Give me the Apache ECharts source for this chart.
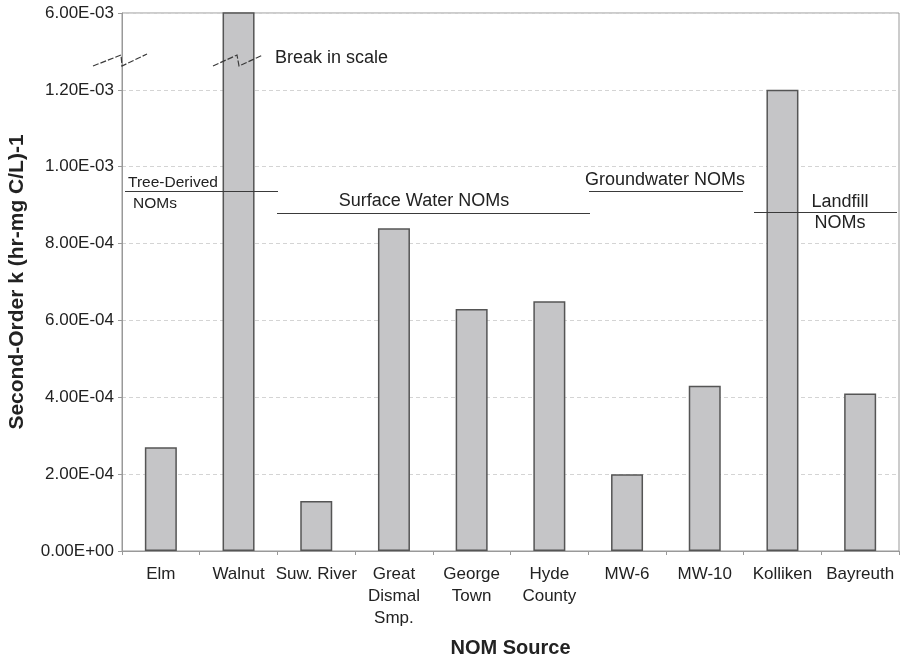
<!DOCTYPE html>
<html>
<head>
<meta charset="utf-8">
<script src="https://cdn.jsdelivr.net/npm/echarts@6/dist/echarts.min.js"></script>
<style>
html,body{margin:0;padding:0;background:#fff;}
#chart{width:905px;height:657px;}
</style>
</head>
<body>
<div id="chart"></div>
<script>
// ---- data ----
const categories = ['Elm', 'Walnut', 'Suw. River', 'Great\nDismal\nSmp.', 'George\nTown', 'Hyde\nCounty', 'MW-6', 'MW-10', 'Kolliken', 'Bayreuth'];
const rateValues = [2.7e-4, 6.0e-3, 1.3e-4, 8.4e-4, 6.3e-4, 6.5e-4, 2.0e-4, 4.3e-4, 1.2e-3, 4.1e-4];
const axisMin = 0;
const axisMax = 1.4e-3;        // top of the broken scale
const axisStep = 2e-4;
const topTickLabel = '6.00E-03'; // label shown at the break
const groupLabels = ['Tree-Derived', 'NOMs', 'Surface Water NOMs', 'Groundwater NOMs', 'Landfill', 'NOMs', 'Break in scale'];

const FONT = '"Liberation Sans", Arial, Helvetica, sans-serif';

function fmtSci(v) {
  if (Math.abs(v - axisMax) < 1e-9) return topTickLabel;
  if (v === 0) return '0.00E+00';
  let s = v.toExponential(2).toUpperCase();
  return s.replace(/E([+-])(\d)$/, 'E$10$2');
}

const chart = echarts.init(document.getElementById('chart'), null, {renderer: 'canvas'});

const line = (pts, dash) => ({
  type: 'polyline',
  shape: {points: pts},
  style: {stroke: '#3a3a3a', lineWidth: 1.2, fill: null, lineDash: dash || null},
  z: 100
});
const txt = (x, y, t, size, align) => ({
  type: 'text',
  x: x, y: y,
  style: {text: t, font: size + 'px ' + FONT, fill: '#222', align: align || 'center', verticalAlign: 'middle'},
  z: 100
});

chart.setOption({
  animation: false,
  backgroundColor: '#fff',
  grid: {left: 122, right: 6, top: 13, bottom: 106, show: true, borderColor: '#999', borderWidth: 1,
         containLabel: false, outerBoundsMode: 'none'},
  xAxis: {
    type: 'category',
    data: categories,
    name: 'NOM Source',
    nameLocation: 'middle',
    nameGap: 87,
    nameTextStyle: {fontFamily: FONT, fontSize: 20, fontWeight: 'bold', color: '#222'},
    axisLine: {lineStyle: {color: '#999', width: 1}},
    axisTick: {show: true, length: 4, lineStyle: {color: '#999'}},
    axisLabel: {fontFamily: FONT, fontSize: 17, color: '#222', margin: 12, lineHeight: 22, interval: 0}
  },
  yAxis: {
    type: 'value',
    min: axisMin,
    max: axisMax,
    interval: axisStep,
    name: 'Second-Order k (hr-mg C/L)-1',
    nameLocation: 'middle',
    nameGap: 94,
    nameTextStyle: {fontFamily: FONT, fontSize: 21, fontWeight: 'bold', color: '#222'},
    axisLine: {show: true, lineStyle: {color: '#999', width: 1}},
    axisTick: {show: true, length: 4, lineStyle: {color: '#999'}},
    axisLabel: {fontFamily: FONT, fontSize: 17, color: '#222', margin: 8, formatter: fmtSci},
    splitLine: {show: true, lineStyle: {color: '#d4d4d4', type: [4, 3], width: 1}}
  },
  series: [{
    type: 'bar',
    data: rateValues,
    barWidth: 32,
    clip: true,
    itemStyle: {color: '#c5c5c7', borderColor: '#555', borderWidth: 1.5},
    emphasis: {disabled: true}
  }],
  graphic: [
    // break marks
    line([[93, 66], [121, 55], [122, 66], [147, 54]], [6, 2]),
    line([[213, 66], [237, 55], [239, 66], [263, 55]], [6, 2]),
    txt(275, 58, groupLabels[6], 18, 'left'),
    // Tree-Derived
    txt(128, 183, groupLabels[0], 15.5, 'left'),
    line([[125, 191.5], [278, 191.5]]),
    txt(133, 204, groupLabels[1], 15.5, 'left'),
    // Surface water
    txt(424, 201, groupLabels[2], 18),
    line([[277, 213.5], [590, 213.5]]),
    // Groundwater
    txt(665, 180, groupLabels[3], 18),
    line([[589, 191.5], [743, 191.5]]),
    // Landfill
    txt(840, 202, groupLabels[4], 18),
    line([[754, 212.5], [897, 212.5]]),
    txt(840, 223, groupLabels[5], 18)
  ]
});
</script>
</body>
</html>
